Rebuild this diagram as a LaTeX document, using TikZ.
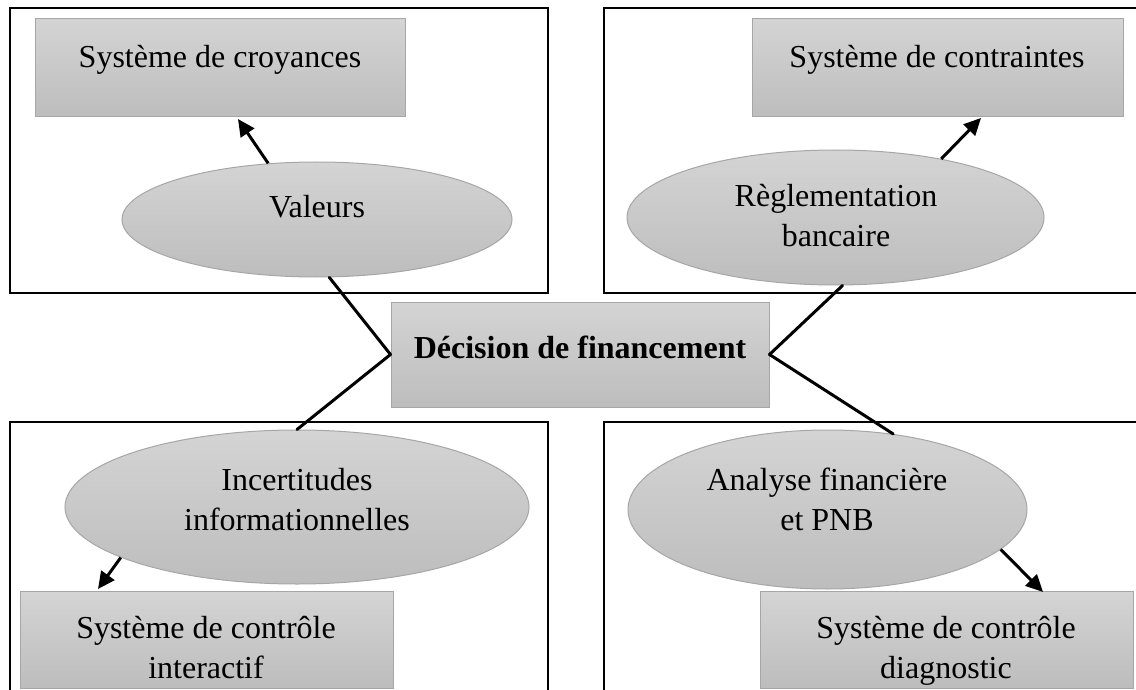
\documentclass[tikz,border=0pt]{standalone}
\usepackage{fontspec}
\setmainfont{Liberation Serif}
\usetikzlibrary{shapes.geometric,arrows.meta}
\definecolor{gtop}{HTML}{D4D4D4}
\definecolor{gbot}{HTML}{BDBDBD}
\definecolor{gline}{HTML}{A6A6A6}
\begin{document}
\begin{tikzpicture}[x=1pt,y=-1pt,
  frame/.style={line width=2.6pt},
  shapebox/.style={rectangle, draw=gline, line width=1pt, top color=gtop, bottom color=gbot, inner sep=0pt},
  oval/.style={ellipse, draw=gline, line width=1pt, top color=gtop, bottom color=gbot, inner sep=0pt},
  lbl/.style={anchor=base, font=\fontsize{32}{39.5}\selectfont, align=center, inner sep=0pt},
  conn/.style={line width=3pt, line cap=round},
  arr/.style={line width=3pt, -{Triangle[length=17pt,width=16pt]}}
]
\useasboundingbox (0,0) rectangle (1136,690);
\clip (0,0) rectangle (1136,690);

% outer frames
\draw[frame] (10,8) rectangle (548,293);
\draw[frame] (1150,8) -- (604,8) -- (604,293) -- (1150,293);
\draw[frame] (10,700) -- (10,422) -- (548,422) -- (548,700);
\draw[frame] (604,700) -- (604,422) -- (1150,422);

% shapes
\node[shapebox, minimum width=370pt, minimum height=98pt] (croy) at (220,68) {};
\node[shapebox, minimum width=371pt, minimum height=98pt] (cont) at (937.5,68) {};
\node[shapebox, minimum width=373pt, minimum height=97pt] (inter) at (206.5,639.5) {};
\node[shapebox, minimum width=373pt, minimum height=97pt] (diag) at (946.5,639.5) {};
\node[shapebox, minimum width=378pt, minimum height=105pt] (dec) at (580,354.5) {};
\node[oval, minimum width=390pt, minimum height=115pt] (val) at (317,219.5) {};
\node[oval, minimum width=417pt, minimum height=135pt] (regl) at (835.5,217.5) {};
\node[oval, minimum width=464pt, minimum height=154pt] (inc) at (297,507) {};
\node[oval, minimum width=399pt, minimum height=159pt] (ana) at (827.5,509.5) {};

% labels (base = baseline of the last line)
\node[lbl] (tcroy) at (220,68) {Système de croyances};
\node[lbl] (tcont) at (937,68) {Système de contraintes};
\node[lbl] (tval) at (317,218) {Valeurs};
\node[lbl] (tregl) at (836,246) {Règlementation\\bancaire};
\node[lbl] (tdec) at (580,358) {\textbf{Décision de financement}};
\node[lbl] (tinc) at (297,530) {Incertitudes\\informationnelles};
\node[lbl] (tana) at (827,530) {Analyse financière\\et PNB};
\node[lbl] (tint) at (206,678) {Système de contrôle\\interactif};
\node[lbl] (tdia) at (946,678) {Système de contrôle\\diagnostic};

% connectors
\draw[conn] (val.-78) -- (dec.west);
\draw[conn] (dec.west) -- (inc.north);
\draw[conn] (regl.-84) -- (dec.east);
\draw[conn] (dec.east) -- (ana.49);

% arrows
\coordinate (h1) at (238,119);
\coordinate (h2) at (981,118);
\coordinate (h3) at (98,589);
\coordinate (h4) at (1043,592);
\draw[arr] (val.131) -- (h1);
\draw[arr] (regl.29.6) -- (h2);
\draw[arr] (inc.196) -- (h3);
\draw[arr] (ana.-13.7) -- (h4);
\end{tikzpicture}
\end{document}
